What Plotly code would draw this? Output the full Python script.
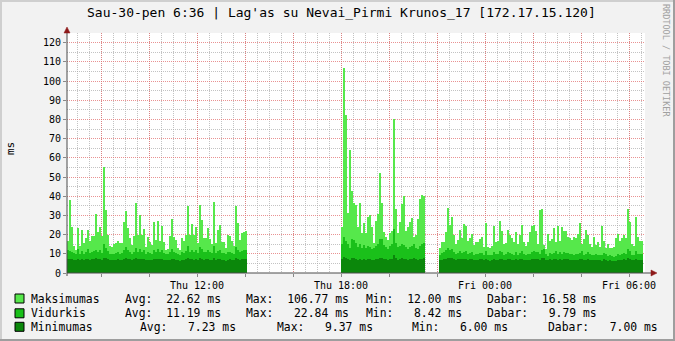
import plotly.graph_objects as go
from datetime import datetime, timedelta

TITLE = "Sau-30-pen 6:36 | Lag'as su Nevai_Pirmi Krunos_17 [172.17.15.120]"
SIDE_TEXT = "RRDTOOL / TOBI OETIKER"
Y_LABEL = "ms"

# ---- data (5 minute steps, three segments with gaps between them) ----
seg_starts = ["2015-01-29 06:35", "2015-01-29 18:00", "2015-01-29 22:05"]
step_minutes = 5

seg1_max = [16.7, 38, 24, 14, 12, 23.5, 14, 22.4, 15.6, 18.4, 22.4, 16.7, 19.3, 19.3, 30.8, 21.4, 24, 19.3, 55, 33,
            20, 14, 13.7, 15, 15.6, 16.7, 15.6, 15.6, 26.8, 32.3, 23.7, 18.2, 14.6, 19.5, 36.5, 19.8, 30.3, 19.8, 23, 13.7,
            19, 16.2, 14.6, 26.8, 17.2, 27,
            16.7, 24.7, 16.2, 12, 12.5, 19.5, 28.2, 19, 17.2, 13.2, 12, 18, 16.7, 19.8, 35, 19.8, 25.6, 19.8, 23.8, 15.5,
            35.5, 27.6, 18, 18.4, 23.6, 17.7, 15, 36.9, 15.5, 22.4, 25, 16, 16, 13.2, 19.8, 19.5, 16.7, 14.3, 35, 26,
            17.2, 21, 21.6, 22]
seg2_max = [24, 106.77, 82.4, 31, 64, 42.8, 36.3, 35.5, 24, 36.3, 20.7, 26, 20.7, 29.4, 30, 24, 15.5, 27, 30.8, 52,
            36.7, 21.6, 18.6, 17.2, 21, 22, 80.2, 33.2, 21, 26.8, 36, 40.2, 22, 24, 26.8, 28.9, 19, 19.8, 28, 38.6,
            40.7, 40]
seg3_max = [13.2, 16, 16, 21.2, 34, 25, 29.4, 19.8, 15, 17.2, 22.4, 18, 25.4, 24.5, 16.7, 18, 20.3, 14.6, 16, 16,
            17.7, 19, 13.7, 26, 13.7, 12.9, 14.3, 24.7, 16.4, 16.7, 27.1, 22, 15, 15.5, 22.4, 19.8, 18.4, 16, 21.2, 15,
            19.8, 25, 16.4, 14.3, 16,
            21.2, 24.7, 25, 22, 15, 32.9, 33.4, 14.6, 12.5, 20.2, 16.7, 17.7, 23.3, 16, 24.7, 16.7, 24.2, 22, 22, 19,
            18.4, 17.2, 19, 18.4, 20.2, 26, 15, 17.7, 22.4, 19.8, 15, 13.7, 19, 14.6, 16, 13.7, 24.7, 16.7, 13.2, 15,
            13.2, 13.2, 13.7, 18.4, 20.2,
            16.7, 18.4, 19.8, 18.4, 33.4, 26.8, 15, 14.3, 29.4, 19, 16.7, 16.58]

seg1_avg = [12, 11.5, 11, 10.5, 10, 12.5, 10, 11.5, 10, 11, 12.5, 10.5, 11, 11.5, 12, 11, 12, 10.5, 15, 13,
            11.5, 10, 9.8, 10, 10.5, 11, 10, 10.5, 12, 13.5, 12, 11, 10, 11, 13, 11, 12.5, 11, 12, 10,
            11, 10.5, 10, 12, 11, 12.5,
            11, 12, 10.5, 9.8, 10, 11, 12.5, 11, 10.5, 10, 9.6, 11, 10.5, 11.5, 14, 11, 12, 11, 12, 10.5,
            13.5, 12.5, 11, 11, 12, 11, 10.5, 14, 10.5, 11.5, 12, 10.5, 10.5, 9.8, 11, 11, 10.5, 10, 13.5, 12,
            11, 11.5, 12, 12]
seg2_avg = [15, 19, 16.5, 15, 13, 17.5, 17, 15.5, 13.5, 15, 13, 14.5, 13, 14, 13.5, 12.5, 13, 14, 15, 17.5,
            17.5, 14.5, 13.5, 12.5, 14, 15, 22.84, 15.5, 13.5, 14, 15, 14.5, 13.5, 12.5, 13.5, 14, 15, 13, 12.5, 14,
            15, 15.5]
seg3_avg = [9.5, 10.5, 11, 12, 13, 12, 12.5, 11, 10, 10.5, 11.5, 10.5, 11, 11.5, 10, 10.5, 11, 9.5, 10, 10,
            10.5, 10.5, 9.5, 11.5, 9.5, 9.2, 9.5, 11, 10, 10, 11.5, 11, 9.5, 10, 11, 10.5, 10, 9.5, 11, 9.5,
            10.5, 11.5, 10, 9.5, 10,
            10, 11, 11.5, 11, 11, 10, 12, 12.5, 10, 9, 10.5, 10, 10.5, 11.5, 10, 11, 10, 11, 10.5, 10.5,
            10, 10, 9.5, 10, 9.8, 10.5, 11.5, 9.5, 10, 11, 10, 9.5, 9.2, 10, 9.5, 9.5, 9.2, 10.5, 9.8, 9,
            9.5, 8.8, 8.42, 9, 9.8,
            9.5, 10, 10.5, 10, 12.5, 11.5, 9.5, 9.2, 11.5, 10, 10, 9.79]

seg1_min = [7.2, 7.5, 7.3, 7, 6.8, 7.5, 7, 7.3, 7, 7.2, 7.5, 7, 7.2, 7.4, 7.6, 7.2, 7.5, 7, 8, 7.8,
            7.3, 6.8, 6.7, 6.8, 7, 7.2, 6.9, 7, 7.4, 7.8, 7.5, 7.2, 6.9, 7.2, 7.6, 7.2, 7.4, 7.1, 7.3, 6.8,
            7, 6.9, 6.8, 7.3, 7.1, 7.5,
            7.2, 7.4, 7, 6.6, 6.7, 7, 7.5, 7.1, 6.9, 6.7, 6.5, 7, 6.8, 7.2, 7.8, 7.1, 7.4, 7, 7.3, 6.8,
            7.8, 7.5, 7, 7.1, 7.3, 7, 6.8, 7.8, 6.8, 7.2, 7.4, 6.8, 6.8, 6.5, 7, 7.1, 6.8, 6.6, 7.6, 7.3,
            7, 7.2, 7.4, 7.4]
seg2_min = [7.5, 8.2, 7.8, 7.3, 7, 7.6, 7.8, 7.4, 7, 7.3, 7, 7.2, 7, 7.3, 7.2, 7, 6.9, 7.2, 7.4, 7.9,
            8, 7.4, 7.1, 6.9, 7.2, 7.5, 9.37, 7.6, 7, 7.3, 7.6, 7.5, 7.2, 7, 7.2, 7.4, 7.6, 7.1, 7, 7.3,
            7.5, 7.6]
seg3_min = [6.8, 7, 7.2, 7.5, 7.8, 7.6, 7.8, 7.4, 7, 7.1, 7.4, 7.1, 7.3, 7.5, 7, 7.1, 7.3, 6.8, 7, 7,
            7.1, 7.2, 6.8, 7.5, 6.8, 6.5, 6.7, 7.3, 7, 7, 7.5, 7.3, 6.8, 7, 7.4, 7.2, 7, 6.8, 7.3, 6.8,
            7.1, 7.5, 7, 6.8, 7,
            7, 7.3, 7.5, 7.4, 7.3, 7, 7.8, 7.9, 7, 6.6, 7.2, 7, 7.1, 7.5, 7, 7.4, 7, 7.4, 7.2, 7.2,
            7, 7, 6.8, 7, 6.9, 7.1, 7.5, 6.7, 7, 7.3, 7, 6.8, 6.6, 7, 6.7, 6.8, 6.5, 7.1, 6.8, 6.3,
            6.6, 6.2, 6.0, 6.4, 6.8,
            6.8, 7, 7.2, 7, 7.8, 7.5, 6.8, 6.6, 7.5, 7, 7, 7.0]

series_names = ["Maksimumas", "Vidurkis", "Minimumas"]
series_colors = ["#56E84B", "#1AC01A", "#0B870B"]

legend_rows = [
    ["Maksimumas", "Avg:  22.62 ms", "Max:  106.77 ms", "Min:  12.00 ms", "Dabar:  16.58 ms"],
    ["Vidurkis",   "Avg:  11.19 ms", "Max:   22.84 ms", "Min:   8.42 ms", "Dabar:   9.79 ms"],
    ["Minimumas",  "Avg:   7.23 ms", "Max:   9.37 ms", "Min:   6.00 ms", "Dabar:   7.00 ms"],
]

x_range = ["2015-01-29 06:35", "2015-01-30 06:40"]
x_tick_vals = ["2015-01-29 08:00", "2015-01-29 10:00", "2015-01-29 12:00", "2015-01-29 14:00",
               "2015-01-29 16:00", "2015-01-29 18:00", "2015-01-29 20:00", "2015-01-29 22:00",
               "2015-01-30 00:00", "2015-01-30 02:00", "2015-01-30 04:00", "2015-01-30 06:00"]
x_tick_text = ["", "", "Thu 12:00", "", "", "Thu 18:00", "", "", "Fri 00:00", "", "", "Fri 06:00"]

# ---- build series ----
def seg_times(start, n):
    t0 = datetime.strptime(start, "%Y-%m-%d %H:%M")
    return [t0 + timedelta(minutes=step_minutes * (i + 0.5)) for i in range(n)]

segs_max = [seg1_max, seg2_max, seg3_max]
segs_avg = [seg1_avg, seg2_avg, seg3_avg]
segs_min = [seg1_min, seg2_min, seg3_min]

def concat(segs):
    xs, ys = [], []
    for s, vals in zip(seg_starts, segs):
        xs += seg_times(s, len(vals))
        ys += vals
    return xs, ys

fig = go.Figure()
for name, segs, col in zip(series_names, [segs_max, segs_avg, segs_min], series_colors):
    xs, ys = concat(segs)
    fig.add_trace(go.Bar(x=xs, y=ys, name=name, width=step_minutes * 60000,
                         marker=dict(color=col, line=dict(width=0)), hoverinfo="skip"))

# ---- geometry helpers (pixel -> paper) ----
W, H = 675, 341
L, R, T, B = 67, 645, 33, 273
PW, PH = R - L, B - T

def px(p):
    return (p - L) / PW

def py(p):
    return (B - p) / PH

MONO = "DejaVu Sans Mono"
MAJOR = "rgba(225,110,110,0.75)"
MINOR = "rgba(170,170,170,0.7)"

fig.update_layout(
    width=W, height=H, autosize=False,
    margin=dict(l=L, r=W - R, t=T, b=H - B, pad=0),
    paper_bgcolor="#F2F2F2", plot_bgcolor="#FFFFFF",
    barmode="overlay", bargap=0, showlegend=False,
    font=dict(family=MONO, size=10, color="#000000"),
    xaxis=dict(type="date", range=x_range, tickmode="array", tickvals=x_tick_vals, ticktext=x_tick_text,
               showgrid=True, gridcolor=MAJOR, gridwidth=1, griddash="1px,1px",
               ticks="outside", ticklen=3, tickcolor="#888888", tickwidth=1,
               showline=False, zeroline=False, fixedrange=True,
               tickfont=dict(family=MONO, size=10, color="#000000"),
               minor=dict(dtick=1800000, tick0="2015-01-29 00:00", showgrid=True,
                          gridcolor=MINOR, gridwidth=1, griddash="1px,1px")),
    yaxis=dict(range=[0, 125], tickmode="linear", tick0=0, dtick=10,
               showgrid=True, gridcolor=MAJOR, gridwidth=1, griddash="1px,1px",
               ticks="outside", ticklen=3, tickcolor="#888888", tickwidth=1,
               showline=False, zeroline=False, fixedrange=True,
               tickfont=dict(family=MONO, size=10, color="#000000"),
               minor=dict(dtick=5, showgrid=True, gridcolor=MINOR, gridwidth=1, griddash="1px,1px")),
)

shapes = []
# frame shading
shapes.append(dict(type="rect", xref="paper", yref="paper", x0=px(0), x1=px(W), y0=py(0), y1=py(2),
                   fillcolor="#CFCFCF", line=dict(width=0), layer="below"))
shapes.append(dict(type="rect", xref="paper", yref="paper", x0=px(0), x1=px(2), y0=py(0), y1=py(H),
                   fillcolor="#CFCFCF", line=dict(width=0), layer="below"))
shapes.append(dict(type="rect", xref="paper", yref="paper", x0=px(W - 2), x1=px(W), y0=py(0), y1=py(H),
                   fillcolor="#9E9E9E", line=dict(width=0)))
shapes.append(dict(type="rect", xref="paper", yref="paper", x0=px(0), x1=px(W), y0=py(H - 2), y1=py(H),
                   fillcolor="#9E9E9E", line=dict(width=0)))
# axes lines
AXIS = "#4A4A4A"
shapes.append(dict(type="line", xref="paper", yref="paper", x0=px(L), x1=px(652), y0=py(B), y1=py(B),
                   line=dict(color=AXIS, width=1)))
shapes.append(dict(type="line", xref="paper", yref="paper", x0=px(L), x1=px(L), y0=py(B + 3), y1=py(30),
                   line=dict(color=AXIS, width=1)))
# arrows
ARROW = "#8E1A1A"
shapes.append(dict(type="path", xref="paper", yref="paper",
                   path=f"M {px(651)} {py(270)} L {px(657)} {py(273)} L {px(651)} {py(276)} Z",
                   fillcolor=ARROW, line=dict(color=ARROW, width=0.5)))
shapes.append(dict(type="path", xref="paper", yref="paper",
                   path=f"M {px(64)} {py(33)} L {px(67)} {py(27)} L {px(70)} {py(33)} Z",
                   fillcolor=ARROW, line=dict(color=ARROW, width=0.5)))

annotations = []
annotations.append(dict(text=TITLE, xref="paper", yref="paper", x=px(341), y=py(12), xanchor="center",
                        yanchor="middle", showarrow=False, font=dict(family=MONO, size=13, color="#000000")))
annotations.append(dict(text=Y_LABEL, xref="paper", yref="paper", x=px(10), y=py(149), xanchor="center",
                        yanchor="middle", textangle=-90, showarrow=False,
                        font=dict(family=MONO, size=11, color="#000000")))
annotations.append(dict(text=SIDE_TEXT, xref="paper", yref="paper", x=px(666), y=py(60), xanchor="center",
                        yanchor="middle", textangle=90, showarrow=False,
                        font=dict(family=MONO, size=8.5, color="#A0A0A0")))

row_y = [298.5, 313.3, 326.8]
col_x = [[30, 123.5, 244.5, 365.2, 486.2],
         [30, 123.5, 244.5, 365.2, 486.2],
         [30, 138.5, 275.5, 411.2, 546.5]]
for r, (row, yy) in enumerate(zip(legend_rows, row_y)):
    shapes.append(dict(type="rect", xref="paper", yref="paper", x0=px(15), x1=px(24),
                       y0=py(yy - 4.5), y1=py(yy + 4.5), fillcolor=series_colors[r],
                       line=dict(color="#000000", width=1)))
    for txt, xx in zip(row, col_x[r]):
        annotations.append(dict(text=txt.replace(" ", "&nbsp;"), xref="paper", yref="paper", x=px(xx), y=py(yy),
                                xanchor="left", yanchor="middle", showarrow=False, borderpad=0,
                                font=dict(family=MONO, size=11.4, color="#000000")))

fig.update_layout(shapes=shapes, annotations=annotations)
fig.write_html("out.html")
